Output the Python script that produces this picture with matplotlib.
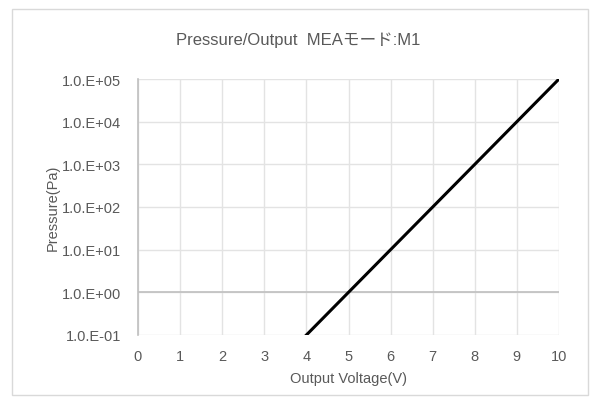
import numpy as np
import matplotlib.pyplot as plt
from matplotlib.patches import Rectangle

#values
voltage = [4, 5, 6, 7, 8, 9, 10]
pressure = [1e-1, 1e0, 1e1, 1e2, 1e3, 1e4, 1e5]
xTicks = list(range(0, 11))
yTicks = [1e-1, 1e0, 1e1, 1e2, 1e3, 1e4, 1e5]
yTickLabels = ['1.0.E-01', '1.0.E+00', '1.0.E+01', '1.0.E+02', '1.0.E+03', '1.0.E+04', '1.0.E+05']

plt.rcParams['font.family'] = ['Liberation Sans', 'Noto Sans CJK JP', 'DejaVu Sans']
textColor = '#595959'
gridColor = '#e3e3e3'
axisColor = '#bfbfbf'

fig = plt.figure(figsize=(5.96, 4.06), dpi=100)
#outer chart border like excel
fig.patches.append(Rectangle((12/596, 1 - 396/406), 576/596, 386/406, transform=fig.transFigure,
                             fill=False, edgecolor='#d9d9d9', linewidth=1))

ax = fig.add_axes([138/596, 1 - 336/406, 421/596, 256/406])
ax.set_yscale('log')
ax.set_xlim(0, 10)
ax.set_ylim(1e-1, 1e5)

#gridlines
for x in xTicks:
    ax.axvline(x, color=gridColor, linewidth=1, zorder=1)
for y in yTicks:
    ax.axhline(y, color=gridColor, linewidth=1, zorder=1)
#horizontal axis crosses at 1 (excel default for log axis)
ax.axhline(1, color=axisColor, linewidth=1.2, zorder=2)

ax.plot(voltage, pressure, color='black', linewidth=2.2, zorder=3)

for s in ['top', 'right', 'bottom']:
    ax.spines[s].set_visible(False)
ax.spines['left'].set_color(axisColor)
ax.spines['left'].set_linewidth(1.2)

ax.set_xticks(xTicks)
ax.set_xticklabels([str(x) for x in xTicks])
ax.set_yticks(yTicks)
ax.set_yticklabels(yTickLabels)
ax.yaxis.set_minor_locator(plt.NullLocator())
ax.tick_params(axis='both', length=0, colors=textColor, labelsize=10.5)
ax.tick_params(axis='x', pad=10)
ax.tick_params(axis='y', pad=12)

ax.set_xlabel('Output Voltage(V)', color=textColor, fontsize=10.5, labelpad=6)
ax.set_ylabel('Pressure(Pa)', color=textColor, fontsize=10.5, labelpad=2)
fig.text(0.5, 1 - 40/406, 'Pressure/Output  MEAモード:M1', ha='center', va='center',
         color=textColor, fontsize=12)

fig.savefig('out.png', dpi=100)
